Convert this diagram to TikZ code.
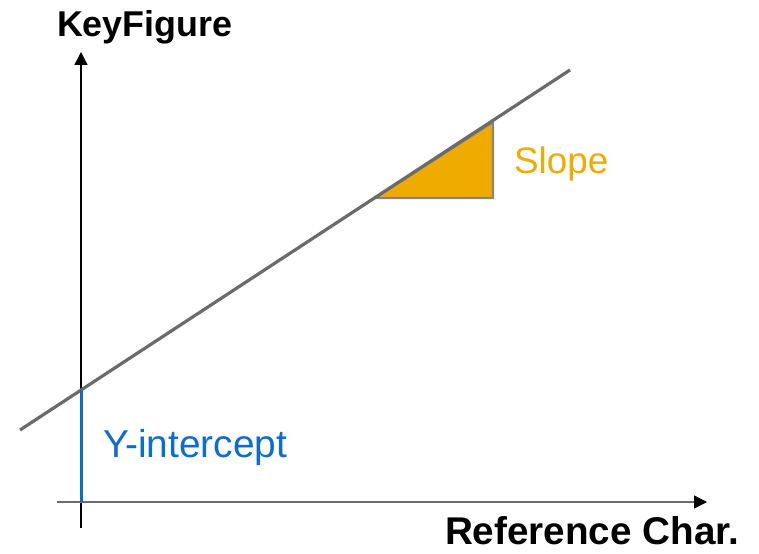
\documentclass[tikz,border=0pt]{standalone}
\usepackage{fontspec}
\setmainfont{Liberation Sans}
\usetikzlibrary{arrows.meta}
\definecolor{linegray}{HTML}{6B6B6B}
\definecolor{tribord}{HTML}{858585}
\definecolor{sloporange}{HTML}{F0AB00}
\definecolor{yblue}{HTML}{0A6ED1}
\tikzset{
  axis/.style={line width=1.4bp, -{Triangle[length=13bp,width=13bp]}},
  lbl/.style={anchor=base west, inner sep=0pt, outer sep=0pt},
}
\begin{document}
\begin{tikzpicture}[x=1bp,y=-1bp]
\useasboundingbox (0,0) rectangle (759,554);
% coordinates
\coordinate (ybot) at (81,528);
\coordinate (ytop) at (81,52);
\coordinate (xl) at (57,502);
\coordinate (xr) at (707,502);
\coordinate (ll) at (20,430);
\coordinate (lr) at (570,70);
\coordinate (ta) at (375,198);
\coordinate (tb) at (493,198);
\coordinate (tc) at (493,122);
\coordinate (yi) at (81.5,390);
\coordinate (yb) at (81.5,502);
% axes
\draw[axis, draw=black, fill=black] (ybot) -- (ytop);
\draw[axis, draw=linegray, -{Triangle[length=13bp,width=13bp,fill=black,color=black]}] (xl) -- (xr);
% slope triangle
\draw[draw=tribord, fill=sloporange, line width=2.2bp, line join=miter] (ta) -- (tb) -- (tc) -- cycle;
% main line
\draw[linegray, line width=3.2bp] (ll) -- (lr);
% y-intercept
\draw[yblue, line width=3bp] (yi) -- (yb);
% labels
\node[lbl, font=\fontsize{36}{36}\selectfont\bfseries] (kf) at (57,37) {KeyFigure};
\node[lbl, font=\fontsize{38.8}{38.8}\selectfont\bfseries] (rc) at (445,544) {Reference Char.};
\node[lbl, font=\fontsize{37}{37}\selectfont, text=sloporange] (sl) at (514,174) {Slope};
\node[lbl, font=\fontsize{39}{39}\selectfont, text=yblue] (yt) at (103,457) {Y-intercept};
\end{tikzpicture}
\end{document}
